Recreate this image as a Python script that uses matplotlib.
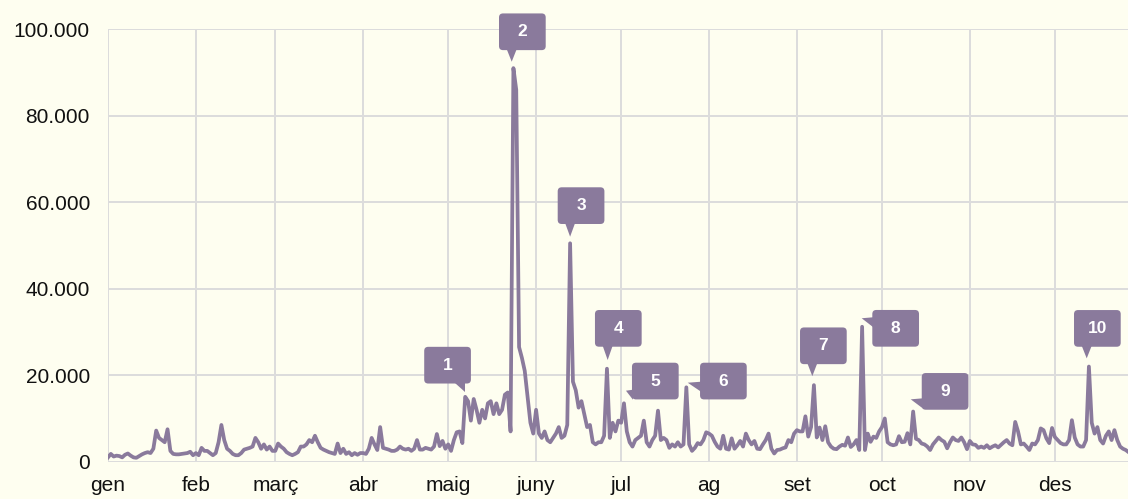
# Daily series with numbered callouts on the main peaks.

import numpy as np
import matplotlib
matplotlib.use("Agg")
from matplotlib import pyplot as plt
from matplotlib import transforms
from matplotlib.patches import FancyBboxPatch, Polygon
from matplotlib.ticker import FuncFormatter

# Data (daily values, in thousands)
#----------------------------------------------------
jan = [1.0, 1.8, 1.2, 1.4, 1.3, 1.0, 1.6, 1.9, 1.4, 1.0, 0.9, 1.3, 1.7, 2.0, 2.2, 2.0,
       3.0, 7.2, 5.5, 5.0, 4.5, 7.5, 2.5, 1.8, 1.7, 1.7, 1.8, 1.9, 2.0, 2.3, 1.5]
feb = [2.0, 1.5, 3.2, 2.5, 2.5, 2.0, 1.5, 2.0, 4.5, 8.5, 5.0, 3.0, 2.5, 1.8, 1.5, 1.5,
       2.0, 2.8, 3.0, 3.2, 3.5, 5.5, 4.5, 3.0, 4.0, 2.8, 3.5, 2.5]
mar = [2.5, 4.2, 3.5, 3.0, 2.2, 1.8, 1.5, 1.8, 2.2, 3.5, 3.5, 4.0, 5.0, 4.5, 6.0, 4.5,
       3.2, 2.8, 2.5, 2.2, 2.0, 1.8, 4.2, 2.0, 3.0, 1.8, 2.2, 1.5, 2.0, 1.6, 2.0]
apr = [2.0, 1.8, 3.0, 5.5, 4.0, 2.7, 8.0, 3.2, 3.0, 2.8, 2.5, 2.5, 2.8, 3.5, 3.0,
       2.8, 3.0, 2.5, 3.0, 5.0, 2.8, 2.8, 3.2, 3.0, 2.8, 3.5, 6.4, 3.6, 4.8, 3.0]
may = [4.0, 2.5, 5.0, 6.8, 7.0, 4.3, 15.0, 14.0, 9.5, 14.5, 12.0, 9.0, 12.0, 10.0, 13.5, 14.0,
       11.0, 13.5, 11.0, 12.0, 15.5, 16.0, 7.0, 91.0, 86.0, 26.5, 24.0, 21.0, 15.0, 9.0, 6.5]
jun = [12.0, 6.5, 5.5, 7.0, 5.0, 4.5, 5.5, 6.5, 8.0, 5.5, 6.0, 8.5, 50.5, 18.5, 16.5,
       12.5, 14.0, 11.0, 8.0, 8.5, 4.5, 4.0, 4.5, 4.5, 6.0, 21.5, 5.5, 9.0, 7.0, 9.5]
jul = [9.0, 13.5, 7.0, 4.5, 3.5, 5.0, 5.5, 6.0, 9.5, 4.5, 3.5, 5.0, 6.0, 11.8, 5.0, 5.5,
       5.0, 3.2, 4.0, 3.5, 4.5, 3.5, 4.0, 17.2, 4.0, 2.5, 3.2, 4.3, 4.0, 5.0, 6.8]
aug = [6.5, 6.0, 4.6, 3.5, 3.0, 6.0, 3.0, 2.8, 5.4, 3.0, 3.8, 4.8, 3.5, 6.5, 5.0, 4.0,
       4.8, 3.0, 2.9, 4.0, 5.0, 6.5, 3.0, 1.9, 2.7, 2.8, 3.1, 3.3, 5.0, 4.5, 6.5]
sep = [7.3, 7.0, 7.0, 10.5, 5.8, 8.0, 17.7, 5.6, 7.9, 5.0, 8.2, 4.5, 3.5, 3.0, 2.9,
       3.5, 3.9, 3.7, 5.6, 3.4, 4.0, 5.0, 2.7, 31.2, 2.7, 6.5, 4.6, 5.8, 5.5, 7.0]
oct_ = [8.0, 10.0, 4.5, 4.0, 3.8, 4.0, 5.9, 4.5, 4.6, 6.6, 4.0, 11.6, 5.3, 5.0, 4.2, 4.0,
        3.5, 2.7, 4.0, 4.8, 5.6, 5.0, 4.6, 3.1, 4.5, 5.6, 5.0, 4.8, 5.6, 4.5, 2.9]
nov = [4.8, 4.0, 3.9, 3.2, 3.5, 3.2, 3.8, 3.1, 3.5, 3.8, 3.3, 3.9, 4.5, 5.0, 4.2,
       3.8, 9.2, 7.0, 4.0, 4.2, 3.5, 2.7, 4.2, 4.0, 5.0, 7.7, 7.3, 5.4, 4.3, 7.8]
dec = [5.7, 5.0, 4.3, 4.0, 4.0, 5.0, 9.6, 5.6, 4.0, 3.5, 3.5, 5.0, 22.0, 9.0,
       6.5, 8.0, 5.0, 4.2, 6.0, 7.0, 5.0, 7.3, 5.0, 3.5, 3.0, 2.7, 2.2]

values = np.array(jan + feb + mar + apr + may + jun + jul + aug + sep + oct_ + nov + dec)
days = np.arange(len(values))

MONTH_STARTS = [0, 31, 59, 90, 120, 151, 181, 212, 243, 273, 304, 334]
MONTH_LABELS = ["gen", "feb", "març", "abr", "maig", "juny", "jul", "ag", "set", "oct", "nov", "des"]

PEAK_DAYS = [126, 143, 163, 176, 182, 204, 249, 266, 284, 346]
PEAK_LABELS = ["1", "2", "3", "4", "5", "6", "7", "8", "9", "10"]

# Callout layout, in pixels relative to the point (x right, y down):
# (box left, box top, tip x, tip y, pointer kind)
CALLOUTS = [
    (-41.0, -50.0, 0.0, -5.3, "downright"),
    (-14.4, -54.7, -1.7, -6.4, "down"),
    (-12.4, -56.0, 0.0, -6.6, "down"),
    (-12.0, -58.7, 0.7, -8.7, "down"),
    (8.0, -40.6, 2.0, -12.6, "left"),
    (13.7, -24.6, 1.4, -4.6, "left"),
    (-13.9, -57.7, -1.6, -9.0, "down"),
    (10.2, -16.8, -0.4, -8.5, "left"),
    (8.6, -38.5, -2.4, -12.2, "left"),
    (-14.9, -56.5, -2.2, -8.2, "down"),
]

# Style
#----------------------------------------------------
DPI = 100
PX = 1.0 / DPI
BG = "#fefef0"
PURPLE = "#8a7a9c"
GRID = "#dcdcdc"
BOX_W, BOX_H = 46.7, 36.7

plt.rcParams["font.family"] = ["Liberation Sans", "DejaVu Sans"]

fig = plt.figure(figsize=(11.28, 4.99), dpi=DPI, facecolor=BG)
ax = fig.add_axes([108 / 1128, 37.3 / 499, 1020.6 / 1128, 432.5 / 499])
ax.set_facecolor(BG)

ax.plot(days, values, color=PURPLE, linewidth=2.7, solid_joinstyle="round", zorder=3)

ax.set_xlim(0, days[-1])
ax.set_ylim(0, 100)
ax.set_xticks(MONTH_STARTS)
ax.set_xticklabels(MONTH_LABELS)
ax.set_yticks(np.arange(0, 101, 20))
ax.yaxis.set_major_formatter(FuncFormatter(lambda v, p: f"{int(round(v * 1000)):,}".replace(",", ".")))
ax.tick_params(axis="both", length=0, labelsize=15, colors="#111111")
ax.tick_params(axis="x", pad=10)
ax.tick_params(axis="y", pad=13)
ax.grid(True, color=GRID, linewidth=1.4, zorder=0)
for s in ax.spines.values():
    s.set_visible(False)

# Callouts
for d, lab, (bx, by, tx, ty, kind) in zip(PEAK_DAYS, PEAK_LABELS, CALLOUTS):
    trans = fig.dpi_scale_trans + transforms.ScaledTranslation(d, values[d], ax.transData)
    bottom = by + BOX_H
    box = FancyBboxPatch((bx * PX, -bottom * PX), BOX_W * PX, BOX_H * PX,
                         boxstyle=f"round,pad=0,rounding_size={4 * PX}",
                         facecolor=PURPLE, edgecolor="none", transform=trans,
                         clip_on=False, zorder=5)
    ax.add_patch(box)
    if kind == "down":
        tri = [(tx - 5, bottom - 1), (tx + 5, bottom - 1), (tx, ty)]
    elif kind == "downright":
        tri = [(tx - 10, bottom - 1), (tx, bottom - 1), (tx, ty)]
    else:
        tri = [(bx + 1, ty - 1), (bx + 1, ty + 9), (tx, ty)]
    tri = [(x * PX, -y * PX) for x, y in tri]
    ax.add_patch(Polygon(tri, closed=True, facecolor=PURPLE, edgecolor="none",
                         transform=trans, clip_on=False, zorder=5))
    ax.text((bx + BOX_W / 2) * PX, -(by + BOX_H / 2) * PX, lab, transform=trans,
            ha="center", va="center", color="white", fontsize=12.5, fontweight="bold",
            zorder=6, clip_on=False)

fig.savefig("out.png", dpi=DPI, facecolor=BG)
